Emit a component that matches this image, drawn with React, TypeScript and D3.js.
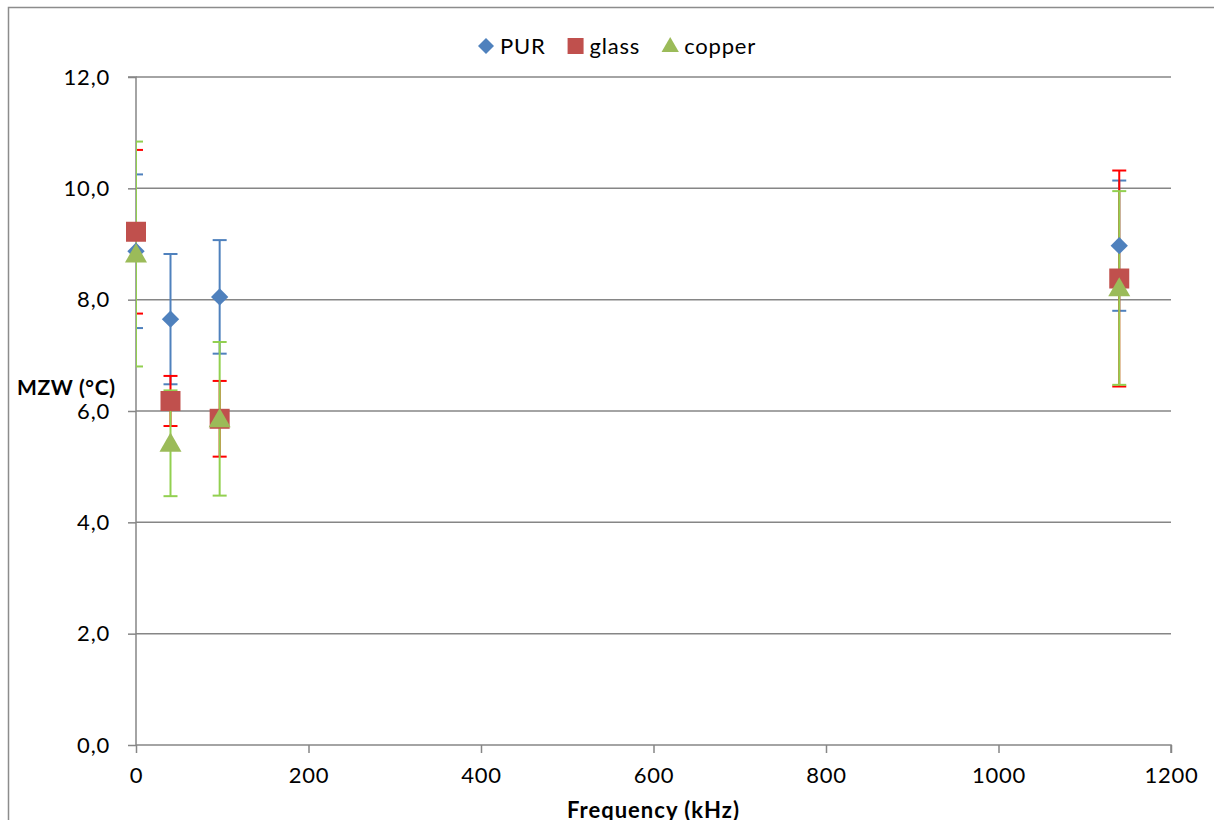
import React, { useRef, useEffect } from "react";
import * as d3 from "d3";

// frequencies (kHz) at which the three samples were measured
const frequencies = [0, 40, 97, 1140];

const purValues = [8.87, 7.65, 8.05, 8.97];
const purErrors = [1.38, 1.17, 1.02, 1.17];

const glassValues = [9.22, 6.18, 5.86, 8.38];
const glassErrors = [1.47, 0.45, 0.68, 1.94];

const copperValues = [8.82, 5.42, 5.86, 8.21];
const copperErrors = [2.02, 0.95, 1.38, 1.74];

const xTicks = [0, 200, 400, 600, 800, 1000, 1200];
const yTicks = [0, 2, 4, 6, 8, 10, 12];

const seriesNames = ["PUR", "glass", "copper"];

const W = 1214;
const H = 820;
const FONT = "Lato, 'Noto Sans', sans-serif";

// square turned 45 degrees, like the Excel diamond marker
const diamond = {
  draw(ctx: any, size: number) {
    const r = Math.sqrt(size / 2);
    ctx.moveTo(0, -r);
    ctx.lineTo(r, 0);
    ctx.lineTo(0, r);
    ctx.lineTo(-r, 0);
    ctx.closePath();
  },
};

const App = () => {
  const ref = useRef<SVGSVGElement>(null);

  useEffect(() => {
    const svg = d3.select(ref.current);
    svg.selectAll("*").remove();

    const x = d3.scaleLinear().domain([0, 1200]).range([136, 1171]);
    const y = d3.scaleLinear().domain([0, 12]).range([745, 77]);
    const grey = "#868686";

    // chart border (only left and top are inside the picture)
    svg
      .append("path")
      .attr("d", `M8.5,${H + 5}V7.5H${W + 5}`)
      .attr("fill", "none")
      .attr("stroke", "#8c8c8c")
      .attr("stroke-width", 1.5);

    svg
      .append("clipPath")
      .attr("id", "plot")
      .append("rect")
      .attr("x", x(0))
      .attr("y", y(12) - 20)
      .attr("width", x(1200) - x(0) + 10)
      .attr("height", y(0) - y(12) + 40);

    // gridlines
    svg
      .append("g")
      .selectAll("line")
      .data(yTicks.filter((t) => t > 0))
      .join("line")
      .attr("x1", x(0))
      .attr("x2", x(1200))
      .attr("y1", (d) => y(d))
      .attr("y2", (d) => y(d))
      .attr("stroke", grey)
      .attr("stroke-width", 1.5);

    // axes
    const yAxis = d3
      .axisLeft(y)
      .tickValues(yTicks)
      .tickSize(8)
      .tickPadding(18)
      .tickFormat((d) => d3.format(".1f")(d as number).replace(".", ","));
    const gy = svg.append("g").attr("transform", `translate(${x(0)},0)`).call(yAxis);

    const xAxis = d3.axisBottom(x).tickValues(xTicks).tickSize(8).tickPadding(14).tickFormat(d3.format("d"));
    const gx = svg.append("g").attr("transform", `translate(0,${y(0)})`).call(xAxis);

    [gx, gy].forEach((g) => {
      g.select(".domain").attr("stroke", grey).attr("stroke-width", 1.5);
      g.selectAll(".tick line").attr("stroke", grey).attr("stroke-width", 1.5);
      g.selectAll("text")
        .attr("font-family", FONT)
        .attr("font-size", 22)
        .attr("letter-spacing", 0.8)
        .attr("fill", "#000");
    });
    gx.select(".domain").attr("d", `M${x(0)},0H${x(1200)}V8`);
    gy.select(".domain").attr("d", `M-8,${y(12)}H0V${y(0)}`);

    // axis titles
    svg
      .append("text")
      .attr("x", 17)
      .attr("y", y(6) - 16)
      .attr("font-family", FONT)
      .attr("font-weight", "bold")
      .attr("font-size", 21)
      .attr("letter-spacing", 0.6)
      .text("MZW (°C)");

    svg
      .append("text")
      .attr("x", (x(0) + x(1200)) / 2)
      .attr("y", 818)
      .attr("text-anchor", "middle")
      .attr("font-family", FONT)
      .attr("font-weight", "bold")
      .attr("font-size", 22)
      .attr("letter-spacing", 1)
      .text("Frequency (kHz)");

    const series = [
      { values: purValues, errors: purErrors, fill: "#4F81BD", bar: "#4F81BD", cap: "#4F81BD", shape: diamond, size: 150 },
      { values: glassValues, errors: glassErrors, fill: "#C0504D", bar: "#FF0000", cap: "#FF0000", shape: d3.symbolSquare, size: 400 },
      { values: copperValues, errors: copperErrors, fill: "#9BBB59", bar: "#92D050", cap: "#92D050", shape: d3.symbolTriangle, size: 210 },
    ];

    // error bars first
    const bars = svg.append("g").attr("clip-path", "url(#plot)");
    series.forEach((s) => {
      const pts = frequencies.map((f, i) => ({ f, v: s.values[i], e: s.errors[i] }));
      const g = bars.append("g");
      g.selectAll("line.v")
        .data(pts)
        .join("line")
        .attr("class", "v")
        .attr("x1", (d) => x(d.f))
        .attr("x2", (d) => x(d.f))
        .attr("y1", (d) => y(d.v + d.e))
        .attr("y2", (d) => y(d.v - d.e))
        .attr("stroke", s.bar)
        .attr("stroke-width", 2);
      ["up", "down"].forEach((k) => {
        g.selectAll(`line.${k}`)
          .data(pts)
          .join("line")
          .attr("class", k)
          .attr("x1", (d) => x(d.f) - 7)
          .attr("x2", (d) => x(d.f) + 7)
          .attr("y1", (d) => y(k === "up" ? d.v + d.e : d.v - d.e))
          .attr("y2", (d) => y(k === "up" ? d.v + d.e : d.v - d.e))
          .attr("stroke", s.cap)
          .attr("stroke-width", 2);
      });
    });

    // markers
    series.forEach((s) => {
      svg
        .append("g")
        .selectAll("path")
        .data(frequencies.map((f, i) => ({ f, v: s.values[i] })))
        .join("path")
        .attr("d", d3.symbol().type(s.shape as any).size(s.size)())
        .attr("transform", (d) => `translate(${x(d.f)},${y(d.v) + (s.shape === d3.symbolTriangle ? 2 : 0)})`)
        .attr("fill", s.fill);
    });

    // legend
    const legend = svg.append("g").attr("transform", "translate(0,46)");
    const legendSizes = [128, 256, 130];
    let cx = 478;
    series.forEach((s, i) => {
      legend
        .append("path")
        .attr("d", d3.symbol().type(s.shape as any).size(legendSizes[i])())
        .attr("transform", `translate(${cx + 8},${s.shape === d3.symbolTriangle ? 1 : 0})`)
        .attr("fill", s.fill);
      const t = legend
        .append("text")
        .attr("x", cx + 22)
        .attr("y", 8)
        .attr("font-family", FONT)
        .attr("font-size", 22)
        .attr("letter-spacing", 0.8)
        .text(seriesNames[i]);
      const w = (t.node() as SVGTextElement).getComputedTextLength();
      cx = cx + 22 + w + 22;
    });
  }, []);

  return <svg ref={ref} width={W} height={H} style={{ position: "absolute", left: 0, top: 0 }} />;
};

export default App;
